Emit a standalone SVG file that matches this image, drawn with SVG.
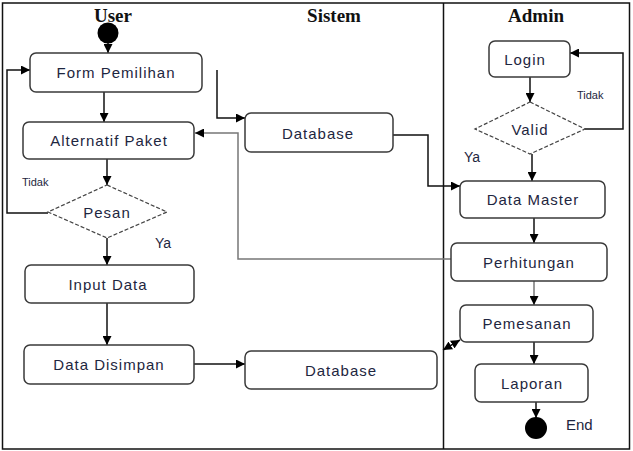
<svg xmlns="http://www.w3.org/2000/svg" width="633" height="451" viewBox="0 0 633 451">
<defs>
<marker id="ah" viewBox="0 0 10 10" refX="10" refY="5" markerWidth="9" markerHeight="9" markerUnits="userSpaceOnUse" orient="auto">
<path d="M0,0 L10,5 L0,10 z" fill="#000"/>
</marker>
<marker id="ahs" viewBox="0 0 10 10" refX="0" refY="5" markerWidth="9" markerHeight="9" markerUnits="userSpaceOnUse" orient="auto">
<path d="M10,0 L0,5 L10,10 z" fill="#000"/>
</marker>
</defs>
<style>
.box{fill:#fff;stroke:#3a3a3a;stroke-width:1.5}
.dia{fill:#fff;stroke:#444;stroke-width:1.2;stroke-dasharray:4 2}
.t{font-family:"Liberation Sans",Arial,sans-serif;font-size:15px;fill:#1e2640;text-anchor:middle;letter-spacing:1px}
.ttl{font-family:"Liberation Serif","Times New Roman",serif;font-size:19px;font-weight:bold;fill:#111;text-anchor:middle}
.lbl{font-family:"Liberation Sans",Arial,sans-serif;fill:#1e2640}
.c{fill:none;stroke:#111;stroke-width:1.5}
.g{fill:none;stroke:#777;stroke-width:1.5}
</style>
<rect x="0" y="0" width="633" height="451" fill="#fff"/>
<rect x="2.5" y="3" width="627" height="446" fill="none" stroke="#111" stroke-width="1.5"/>
<line x1="443.5" y1="3" x2="443.5" y2="449" stroke="#111" stroke-width="1.5"/>
<text class="ttl" x="113" y="22">User</text>
<text class="ttl" x="334" y="22">Sistem</text>
<text class="ttl" x="536" y="22">Admin</text>

<g id="connectors">
<line class="c" x1="108" y1="43" x2="108" y2="53" marker-end="url(#ah)"/>
<line class="c" x1="104" y1="92" x2="104" y2="122" marker-end="url(#ah)"/>
<line class="c" x1="107" y1="159" x2="107" y2="185" marker-end="url(#ah)"/>
<polyline class="c" points="48,213 7,213 7,70 30,70" marker-end="url(#ah)"/>
<line class="c" x1="107" y1="238" x2="107" y2="265" marker-end="url(#ah)"/>
<line class="c" x1="107" y1="303" x2="107" y2="345" marker-end="url(#ah)"/>
<line class="c" x1="194" y1="364" x2="245" y2="364" marker-end="url(#ah)"/>
<polyline class="c" points="217,70 217,118 245,118" marker-end="url(#ah)"/>
<polyline class="c" points="393,135 428,135 428,186 460,186" marker-end="url(#ah)"/>
<polyline class="g" points="451,259 238,259 238,133 195,133" marker-end="url(#ah)"/>
<line class="c" x1="530" y1="77" x2="530" y2="102" marker-end="url(#ah)"/>
<polyline class="c" points="585,129 623,129 623,53 570,53" marker-end="url(#ah)"/>
<line class="c" x1="532" y1="154" x2="532" y2="181" marker-end="url(#ah)"/>
<line class="c" x1="534" y1="218" x2="534" y2="243" marker-end="url(#ah)"/>
<line class="g" x1="534" y1="281" x2="534" y2="305" stroke="#999" marker-end="url(#ah)"/>
<line class="c" x1="443" y1="350" x2="460" y2="340" marker-start="url(#ahs)" marker-end="url(#ah)"/>
<line class="c" x1="534" y1="342" x2="534" y2="364" marker-end="url(#ah)"/>
<line class="c" x1="536" y1="402" x2="536" y2="418" marker-end="url(#ah)"/>
</g>

<g id="start"><circle cx="108" cy="33" r="10.5" fill="#000"/></g>
<g id="form-pemilihan"><rect class="box" x="30" y="53" width="172" height="39" rx="6"/><text class="t" x="116" y="78">Form Pemilihan</text></g>
<g id="alternatif-paket"><rect class="box" x="23" y="122" width="171" height="37" rx="6"/><text class="t" x="109" y="146">Alternatif Paket</text></g>
<g id="pesan"><polygon class="dia" points="107,185 167,212 107,238 48,212"/><text class="t" x="107" y="218" fill="#2a3a60">Pesan</text></g>
<g id="input-data"><rect class="box" x="25" y="265" width="169" height="38" rx="6"/><text class="t" x="108" y="290">Input Data</text></g>
<g id="data-disimpan"><rect class="box" x="24" y="345" width="170" height="39" rx="6"/><text class="t" x="109" y="370">Data Disimpan</text></g>
<g id="database-1"><rect class="box" x="245" y="113" width="148" height="39" rx="6"/><text class="t" x="318" y="139">Database</text></g>
<g id="database-2"><rect class="box" x="245" y="351" width="192" height="38" rx="6"/><text class="t" x="341" y="376">Database</text></g>
<g id="login"><rect class="box" x="489" y="41" width="81" height="36" rx="6"/><text class="t" x="525" y="65">Login</text></g>
<g id="valid"><polygon class="dia" points="530,102 585,129 530,154 475,129"/><text class="t" x="530" y="135">Valid</text></g>
<g id="data-master"><rect class="box" x="460" y="181" width="145" height="37" rx="6"/><text class="t" x="533" y="205">Data Master</text></g>
<g id="perhitungan"><rect class="box" x="451" y="243" width="156" height="38" rx="6"/><text class="t" x="529" y="268">Perhitungan</text></g>
<g id="pemesanan"><rect class="box" x="460" y="305" width="133" height="37" rx="6"/><text class="t" x="527" y="329">Pemesanan</text></g>
<g id="laporan"><rect class="box" x="475" y="364" width="113" height="38" rx="6"/><text class="t" x="532" y="389">Laporan</text></g>
<g id="end"><circle cx="536" cy="428" r="11" fill="#000"/></g>

<text class="lbl" x="22" y="186" font-size="11">Tidak</text>
<text class="lbl" x="155" y="248" font-size="14">Ya</text>
<text class="lbl" x="577" y="99" font-size="11">Tidak</text>
<text class="lbl" x="464" y="162" font-size="14">Ya</text>
<text class="lbl" x="566" y="430" font-size="15">End</text>
</svg>
